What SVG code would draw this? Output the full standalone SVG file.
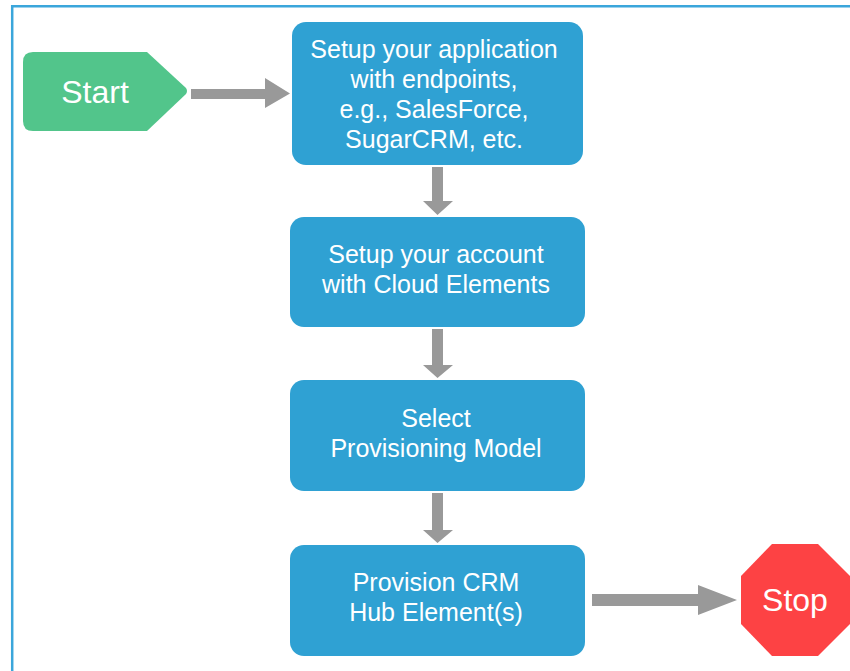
<svg xmlns="http://www.w3.org/2000/svg" width="850" height="671" viewBox="0 0 850 671">
<style>
.box{fill:#2fa1d3}
.t{font-family:"Liberation Sans",Arial,sans-serif;font-size:25px;fill:#fff;text-anchor:middle}
.big{font-size:32px}
.arr{fill:#999}
</style>
<rect width="850" height="671" fill="#fff"/>
<path d="M12.2 671 V6.2 H850" fill="none" stroke="#3ba6db" stroke-width="2.5"/>
<g id="start">
<path d="M33 52 H147 L186 88 Q188 91 186 94 L147 131 H33 Q23 131 23 121 V62 Q23 52 33 52 Z" fill="#52c58b"/>
<text class="t big" x="95" y="103">Start</text>
</g>
<g id="step1">
<rect class="box" x="292" y="22" width="291" height="143" rx="14"/>
<text class="t" x="434" y="58">Setup your application</text>
<text class="t" x="434" y="88">with endpoints,</text>
<text class="t" x="434" y="118">e.g., SalesForce,</text>
<text class="t" x="434" y="148">SugarCRM, etc.</text>
</g>
<g id="step2">
<rect class="box" x="290" y="217" width="295" height="110" rx="14"/>
<text class="t" x="436" y="263">Setup your account</text>
<text class="t" x="436" y="293">with Cloud Elements</text>
</g>
<g id="step3">
<rect class="box" x="290" y="380" width="295" height="111" rx="14"/>
<text class="t" x="436" y="427">Select</text>
<text class="t" x="436" y="457">Provisioning Model</text>
</g>
<g id="step4">
<rect class="box" x="290" y="545" width="295" height="111" rx="14"/>
<text class="t" x="436" y="591">Provision CRM</text>
<text class="t" x="436" y="621">Hub Element(s)</text>
</g>
<g id="stop">
<polygon points="772,544 818,544 850,576 850,624 818,656 772,656 741,624 741,576" fill="#fd4244"/>
<text class="t big" x="795" y="611">Stop</text>
</g>
<g id="connectors" class="arr">
<path d="M191 89 H265 V78 L290 93.5 L265 108 V99 H191 Z"/>
<path d="M432 167 H443 V201 H453 L437.5 215 L423 201 H432 Z"/>
<path d="M432 329 H443 V365 H453 L437.5 378 L423 365 H432 Z"/>
<path d="M432 493 H443 V530 H453 L437.5 543 L423 530 H432 Z"/>
<path d="M592 594 H698 V585 L737 600 L698 615 V606 H592 Z"/>
</g>
</svg>
